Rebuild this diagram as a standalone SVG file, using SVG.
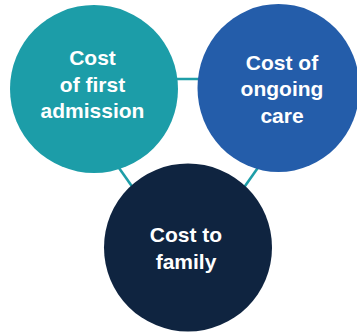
<svg xmlns="http://www.w3.org/2000/svg" width="357" height="333" viewBox="0 0 357 333">
  <style>
    .link { stroke: #1E9EA8; stroke-width: 2.6; fill: none; }
    .label { font-family: "Liberation Sans", Arial, Helvetica, sans-serif; font-weight: bold; font-size: 21px; fill: #FFFFFF; text-anchor: middle; }
  </style>
  <rect width="357" height="333" fill="#FFFFFF"/>
  <!-- connectors between the three cost areas -->
  <g id="connectors">
    <line class="link" x1="150" y1="79" x2="230" y2="79"/>
    <line class="link" x1="100" y1="141" x2="140" y2="197.7"/>
    <line class="link" x1="275" y1="143.5" x2="235" y2="200.2"/>
  </g>
  <g id="first-admission">
    <circle cx="94" cy="89" r="84" fill="#1C9DA8"/>
    <text class="label" x="92.5" y="65">Cost</text>
    <text class="label" x="92.5" y="91.7">of first</text>
    <text class="label" x="92.5" y="118.3">admission</text>
  </g>
  <g id="ongoing-care">
    <ellipse cx="278.5" cy="88" rx="81" ry="84" fill="#245DAA"/>
    <text class="label" x="282" y="69.5">Cost of</text>
    <text class="label" x="282" y="96">ongoing</text>
    <text class="label" x="282" y="122.6">care</text>
  </g>
  <g id="family">
    <circle cx="188" cy="247.5" r="84" fill="#0F2440"/>
    <text class="label" x="186" y="242.3">Cost to</text>
    <text class="label" x="186" y="268.8">family</text>
  </g>
</svg>
